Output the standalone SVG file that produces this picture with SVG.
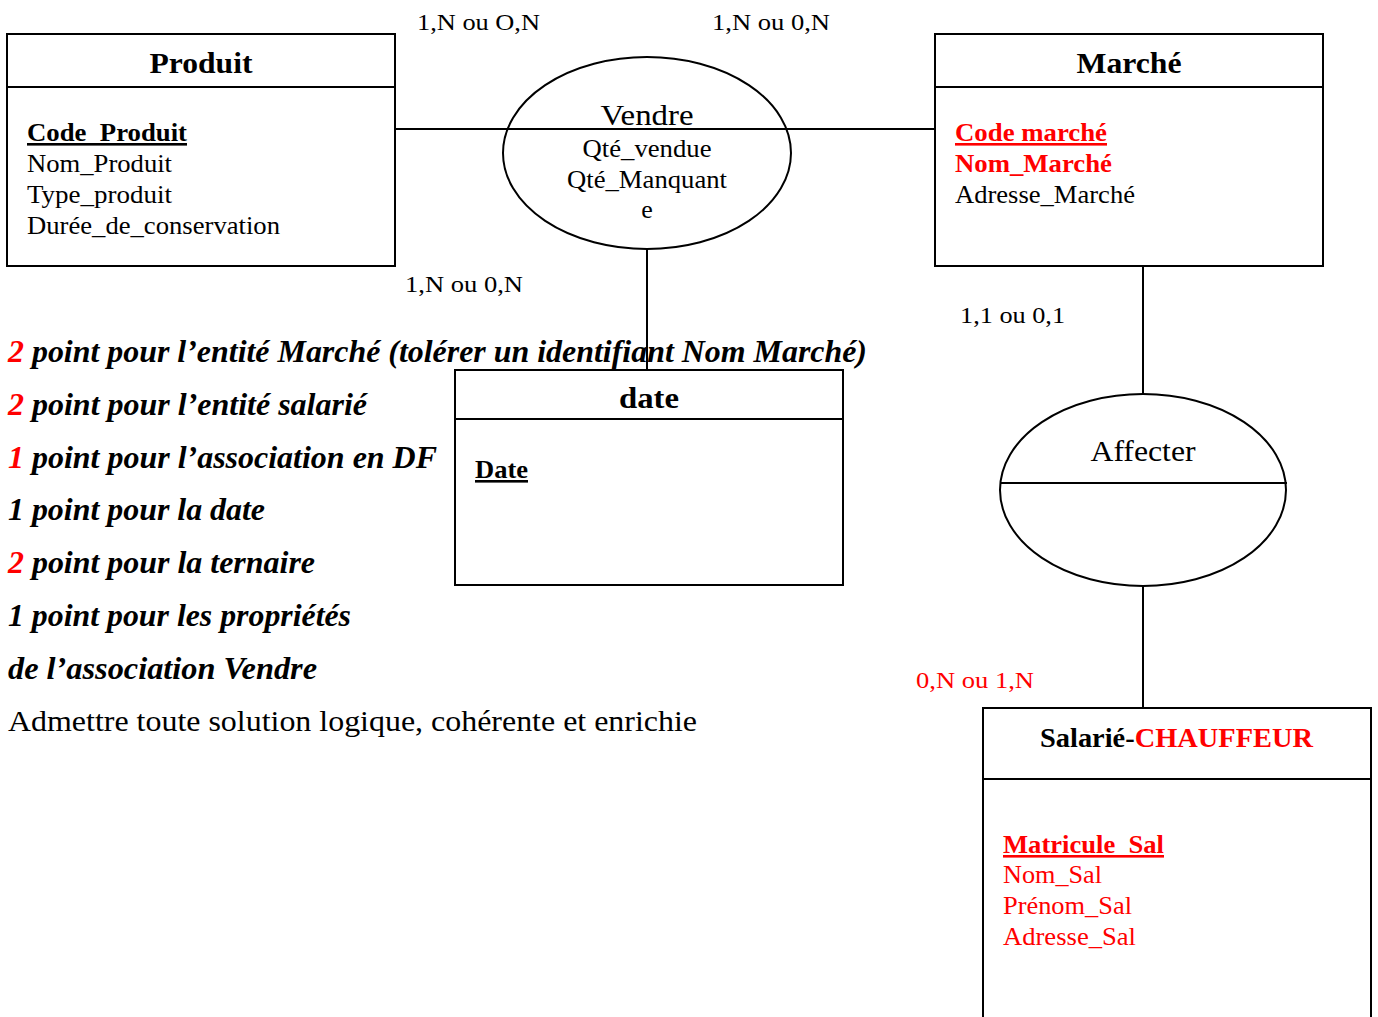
<svg xmlns="http://www.w3.org/2000/svg" width="1378" height="1017" viewBox="0 0 1378 1017">
<style>
text{font-family:"Liberation Serif",Tinos,"Times New Roman",Times,"Nimbus Roman",serif;fill:#000}
.box{fill:#fff;stroke:#000;stroke-width:2}
.ln{stroke:#000;stroke-width:2;fill:none}
.title{font-size:30px;font-weight:bold;text-anchor:middle}
.attr{font-size:26px}
.card{font-size:24px}
.red{fill:#ff0000}
.b{font-weight:bold}
.u{text-decoration:underline}
.note{font-size:32px;font-style:italic;font-weight:bold}
</style>
<rect width="1378" height="1017" fill="#fff"/>
<g id="connectors">
<line class="ln" x1="391" y1="129" x2="935" y2="129"/>
<line class="ln" x1="647" y1="249" x2="647" y2="370"/>
<line class="ln" x1="1143" y1="266" x2="1143" y2="394"/>
<line class="ln" x1="1143" y1="586" x2="1143" y2="708"/>
</g>
<g id="vendre">
<ellipse class="ln" cx="647" cy="153" rx="144" ry="96"/>
<line class="ln" x1="503" y1="129" x2="791" y2="129"/>
<text x="647" y="125" font-size="30" text-anchor="middle" textLength="93" lengthAdjust="spacingAndGlyphs">Vendre</text>
<text class="attr" x="647" y="157" text-anchor="middle" textLength="129" lengthAdjust="spacingAndGlyphs">Qté_vendue</text>
<text class="attr" x="647" y="188" text-anchor="middle" textLength="160" lengthAdjust="spacingAndGlyphs">Qté_Manquant</text>
<text class="attr" x="647" y="218" text-anchor="middle">e</text>
</g>
<g id="produit">
<rect class="box" x="7" y="34" width="388" height="232"/>
<line class="ln" x1="7" y1="87" x2="395" y2="87"/>
<text class="title" x="201" y="73" textLength="103" lengthAdjust="spacingAndGlyphs">Produit</text>
<text class="attr b u" x="27" y="141" textLength="160" lengthAdjust="spacingAndGlyphs">Code_Produit</text>
<text class="attr" x="27" y="172" textLength="145" lengthAdjust="spacingAndGlyphs">Nom_Produit</text>
<text class="attr" x="27" y="203" textLength="145" lengthAdjust="spacingAndGlyphs">Type_produit</text>
<text class="attr" x="27" y="234" textLength="253" lengthAdjust="spacingAndGlyphs">Durée_de_conservation</text>
</g>
<g id="marche">
<rect class="box" x="935" y="34" width="388" height="232"/>
<line class="ln" x1="935" y1="87" x2="1323" y2="87"/>
<text class="title" x="1129" y="73" textLength="105" lengthAdjust="spacingAndGlyphs">Marché</text>
<text class="attr b u red" x="955" y="141" textLength="152" lengthAdjust="spacingAndGlyphs">Code marché</text>
<text class="attr b red" x="955" y="172" textLength="157" lengthAdjust="spacingAndGlyphs">Nom_Marché</text>
<text class="attr" x="955" y="203" textLength="180" lengthAdjust="spacingAndGlyphs">Adresse_Marché</text>
</g>
<g id="affecter">
<ellipse class="ln" cx="1143" cy="490" rx="143" ry="96"/>
<line class="ln" x1="1000" y1="483" x2="1287" y2="483"/>
<text x="1143" y="461" font-size="30" text-anchor="middle" textLength="105" lengthAdjust="spacingAndGlyphs">Affecter</text>
</g>
<g id="date">
<rect class="box" x="455" y="370" width="388" height="215"/>
<line class="ln" x1="455" y1="419" x2="843" y2="419"/>
<text class="title" x="649" y="408" textLength="60" lengthAdjust="spacingAndGlyphs">date</text>
<text class="attr b u" x="475" y="478" textLength="53" lengthAdjust="spacingAndGlyphs">Date</text>
</g>
<g id="salarie">
<rect class="box" x="983" y="708" width="388" height="330"/>
<line class="ln" x1="983" y1="779" x2="1371" y2="779"/>
<text x="1040" y="747" font-size="28" font-weight="bold" textLength="273" lengthAdjust="spacingAndGlyphs">Salarié-<tspan class="red">CHAUFFEUR</tspan></text>
<text class="attr b u red" x="1003" y="853" textLength="161" lengthAdjust="spacingAndGlyphs">Matricule_Sal</text>
<text class="attr red" x="1003" y="883" textLength="99" lengthAdjust="spacingAndGlyphs">Nom_Sal</text>
<text class="attr red" x="1003" y="914" textLength="129" lengthAdjust="spacingAndGlyphs">Prénom_Sal</text>
<text class="attr red" x="1003" y="945" textLength="133" lengthAdjust="spacingAndGlyphs">Adresse_Sal</text>
</g>
<g id="cardinalities">
<text class="card" x="417" y="30" textLength="123" lengthAdjust="spacingAndGlyphs">1,N ou O,N</text>
<text class="card" x="712" y="30" textLength="118" lengthAdjust="spacingAndGlyphs">1,N ou 0,N</text>
<text class="card" x="405" y="292" textLength="118" lengthAdjust="spacingAndGlyphs">1,N ou 0,N</text>
<text class="card" x="960" y="323" textLength="105" lengthAdjust="spacingAndGlyphs">1,1 ou 0,1</text>
<text class="card red" x="916" y="688" textLength="118" lengthAdjust="spacingAndGlyphs">0,N ou 1,N</text>
</g>
<g id="notes">
<text class="note" x="8" y="362" textLength="859" lengthAdjust="spacingAndGlyphs"><tspan class="red">2</tspan> point pour l’entité Marché (tolérer un identifiant Nom Marché)</text>
<text class="note" x="8" y="415" textLength="359" lengthAdjust="spacingAndGlyphs"><tspan class="red">2</tspan> point pour l’entité salarié</text>
<text class="note" x="8" y="468" textLength="429" lengthAdjust="spacingAndGlyphs"><tspan class="red">1</tspan> point pour l’association en DF</text>
<text class="note" x="8" y="520" textLength="257" lengthAdjust="spacingAndGlyphs">1 point pour la date</text>
<text class="note" x="8" y="573" textLength="307" lengthAdjust="spacingAndGlyphs"><tspan class="red">2</tspan> point pour la ternaire</text>
<text class="note" x="8" y="626" textLength="343" lengthAdjust="spacingAndGlyphs">1 point pour les propriétés</text>
<text class="note" x="8" y="679" textLength="309" lengthAdjust="spacingAndGlyphs">de l’association Vendre</text>
<text x="8" y="731" font-size="30" textLength="689" lengthAdjust="spacingAndGlyphs">Admettre toute solution logique, cohérente et enrichie</text>
</g>
</svg>
